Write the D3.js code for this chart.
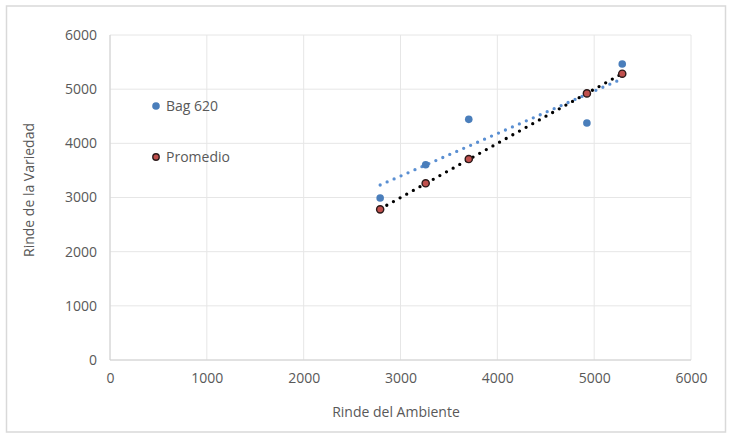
<!DOCTYPE html>
<html><head><meta charset="utf-8">
<script src="https://cdn.jsdelivr.net/npm/d3@7"></script>
<style>body{margin:0;background:#fff}svg{display:block}text{font-family:"Open Sans","Noto Sans",sans-serif;fill:#595959}</style>
</head><body><div id="c"></div>
<script>
const seriesNames = ["Bag 620", "Promedio"];
const xValues = [2790, 3260, 3705, 4925, 5290];
const bagValues = [2990, 3606, 4443, 4375, 5464];
const promedioValues = [2781, 3262, 3710, 4922, 5286];
const xTicks = [0, 1000, 2000, 3000, 4000, 5000, 6000];
const yTicks = [0, 1000, 2000, 3000, 4000, 5000, 6000];
const xTitle = "Rinde del Ambiente";
const yTitle = "Rinde de la Variedad";

const W = 733, H = 433;
const m = {left:110, right:691, top:35, bottom:360};
const svg = d3.select("#c").append("svg").attr("width", W).attr("height", H);
svg.append("rect").attr("x",6.5).attr("y",6).attr("width",719).attr("height",426)
  .attr("fill","#fff").attr("stroke","#d9d9d9").attr("stroke-width",1.5);

const x = d3.scaleLinear().domain([0,6000]).range([m.left, m.right]);
const y = d3.scaleLinear().domain([0,6000]).range([m.bottom, m.top]);

const grid = svg.append("g");
grid.selectAll("line.v").data(xTicks).join("line")
  .attr("x1", d=>x(d)).attr("x2", d=>x(d)).attr("y1", m.top).attr("y2", m.bottom)
  .attr("stroke","#e6e6e6").attr("stroke-width",1);
grid.selectAll("line.h").data(yTicks).join("line").attr("class","h")
  .attr("y1", d=>y(d)).attr("y2", d=>y(d)).attr("x1", m.left).attr("x2", m.right)
  .attr("stroke","#e6e6e6").attr("stroke-width",1);
svg.append("line").attr("x1",m.left).attr("x2",m.right).attr("y1",y(0)).attr("y2",y(0)).attr("stroke","#d0d0d0");
svg.append("line").attr("x1",m.left).attr("x2",m.left).attr("y1",m.top).attr("y2",m.bottom).attr("stroke","#d0d0d0");

const xAxis = d3.axisBottom(x).tickValues(xTicks).tickSize(0).tickPadding(13).tickFormat(d3.format("d"));
const gx = svg.append("g").attr("transform", `translate(0,${m.bottom})`).call(xAxis);
gx.select(".domain").remove();
gx.selectAll("text").style("font-size","14px").attr("fill","#595959");
const yAxis = d3.axisLeft(y).tickValues(yTicks).tickSize(0).tickPadding(13).tickFormat(d3.format("d"));
const gy = svg.append("g").attr("transform", `translate(${m.left},0)`).call(yAxis);
gy.select(".domain").remove();
gy.selectAll("text").style("font-size","14px").attr("fill","#595959");

svg.append("text").attr("x", 396).attr("y", 417).attr("text-anchor","middle")
  .style("font-size","14px").text(xTitle);
svg.append("text").attr("transform", `translate(34,190) rotate(-90)`)
  .attr("text-anchor","middle").style("font-size","14px").text(yTitle);

function regression(xs, ys){
  const mx = d3.mean(xs), my = d3.mean(ys);
  let sxy=0, sxx=0;
  xs.forEach((v,i)=>{sxy+=(v-mx)*(ys[i]-my); sxx+=(v-mx)*(v-mx);});
  const b = sxy/sxx, a = my - b*mx;
  const x0 = d3.min(xs), x1 = d3.max(xs);
  return [[x0, a+b*x0],[x1, a+b*x1]];
}
const line = d3.line().x(d=>x(d[0])).y(d=>y(d[1]));
const blue = "#4a7ebb";
svg.append("path").attr("d", line(regression(xValues, bagValues)))
  .attr("stroke","#5a8fd2").attr("stroke-width",3.3).attr("stroke-linecap","round")
  .attr("stroke-dasharray","0,7.6").attr("fill","none");
svg.append("path").attr("d", line(regression(xValues, promedioValues)))
  .attr("stroke","#000").attr("stroke-width",3.3).attr("stroke-linecap","round")
  .attr("stroke-dasharray","0,7.6").attr("fill","none");

svg.append("g").selectAll("circle").data(xValues.map((v,i)=>[v,bagValues[i]])).join("circle")
  .attr("cx", d=>x(d[0])).attr("cy", d=>y(d[1])).attr("r",3.8).attr("fill",blue);
svg.append("g").selectAll("circle").data(xValues.map((v,i)=>[v,promedioValues[i]])).join("circle")
  .attr("cx", d=>x(d[0])).attr("cy", d=>y(d[1])).attr("r",3.6).attr("fill","#c0504d")
  .attr("stroke","#2b1a1a").attr("stroke-width",1.4);

const lg = svg.append("g");
lg.append("circle").attr("cx",156).attr("cy",106).attr("r",3.8).attr("fill",blue);
lg.append("text").attr("x",166).attr("y",111).style("font-size","14px").text(seriesNames[0]);
lg.append("circle").attr("cx",156).attr("cy",157).attr("r",3.2).attr("fill","#c0504d").attr("stroke","#2b1a1a").attr("stroke-width",1.4);
lg.append("text").attr("x",166).attr("y",162).style("font-size","14px").text(seriesNames[1]);
</script></body></html>
